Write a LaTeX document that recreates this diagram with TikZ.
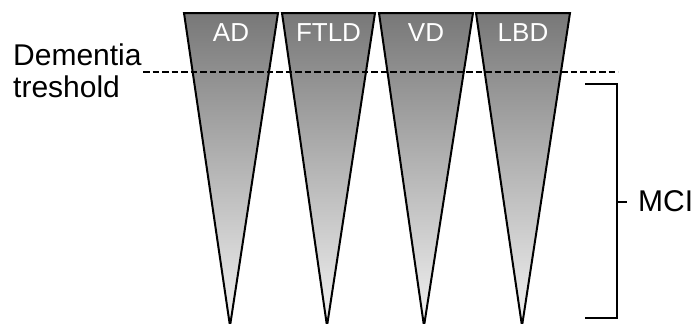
\documentclass[tikz,border=0pt]{standalone}
\usepackage{fontspec}
\setmainfont{Liberation Sans}
\tikzset{
  cone/.style={draw=black, line width=2pt, line join=miter, top color=black!53, bottom color=black!5},
  conelabel/.style={text=white, font=\fontsize{26}{28}\selectfont, inner sep=0pt, anchor=base},
  sidetext/.style={font=\fontsize{30}{32}\selectfont, inner sep=0pt},
  threshold/.style={line width=2pt, dash pattern=on 6.5pt off 3pt},
  bracket/.style={line width=2pt}
}
\begin{document}
\begin{tikzpicture}[x=1pt,y=-1pt]
\useasboundingbox (0,0) rectangle (694,324);
% cones
\foreach \n/\l/\r/\a/\t in {ad/184/278/230/AD, ftld/282/375/327/FTLD, vd/379/473/424/VD, lbd/476/570/522/LBD}{
  \coordinate (\n-tl) at (\l,13);
  \coordinate (\n-tr) at (\r,13);
  \coordinate (\n-ap) at (\a,326);
  \shade[cone] (\n-tl) -- (\n-tr) -- (\n-ap) -- cycle;
  \node[conelabel] (\n-lab) at ({(\l+\r)/2},41) {\t};
}
% threshold
\coordinate (th-l) at (143,72);
\coordinate (th-r) at (618,72);
\draw[threshold] (th-l) -- (th-r);
\node[sidetext, anchor=base west] (dem) at (13,65) {Dementia};
\node[sidetext, anchor=base west] (tres) at (13,97) {treshold};
% MCI bracket
\coordinate (br-tl) at (585,84);
\coordinate (br-tr) at (617,84);
\coordinate (br-br) at (617,318);
\coordinate (br-bl) at (585,318);
\coordinate (br-m) at (617,202);
\coordinate (br-t) at (627,202);
\draw[bracket] (br-tl) -- (br-tr) -- (br-br) -- (br-bl);
\draw[bracket] (br-m) -- (br-t);
\node[sidetext, anchor=base west] (mci) at (638,211) {MCI};
\end{tikzpicture}
\end{document}
